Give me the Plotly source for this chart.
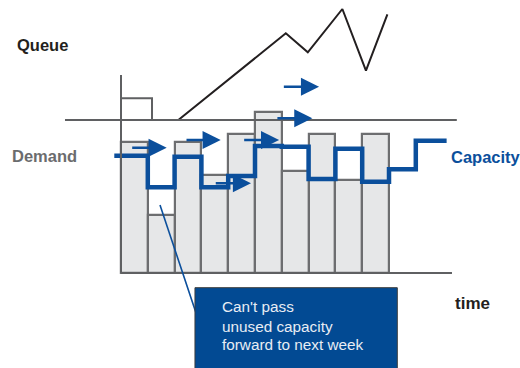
import plotly.graph_objects as go

# ---- data (y in arbitrary units, x in weeks) ----
weeks = list(range(1, 11))
demand = [13.07, 5.77, 13.13, 9.77, 13.87, 16.13, 10.23, 13.93, 9.3, 13.93]

cap_weeks = list(range(1, 13))
capacity = [11.73, 8.57, 11.63, 8.57, 9.7, 12.7, 12.63, 9.4, 12.43, 9.13, 10.37, 13.23]

queue_x = [2.64, 6.65, 7.47, 8.76, 9.64, 10.44]
queue_y = [0, 8.67, 6.77, 11.1, 4.93, 10.57]
queue_step_x = [0.5, 1.657]
queue_step_y = 2.17

arrow_from = [0.862, 2.888, 3.98, 5.04, 6.28, 6.52]
arrow_to = [2.205, 4.22, 5.35, 6.4, 7.64, 7.89]
arrow_level = [12.53, 13.3, 8.97, 13.3, 15.47, 18.63]

note_lines = ["Can't pass", "unused capacity", "forward to next week"]

# ---- styling / layout ----
BLUE = "#0b4f9c"
BOX = "#024a93"
GRAY_LINE = "#5f6062"
BAR_FILL = "#e6e7e8"
BAR_LINE = "#6d6e70"
QUEUE_BASE = 15.3
FONT = "Liberation Sans, Arial, sans-serif"

fig = go.Figure()

fig.add_trace(go.Bar(
    x=weeks, y=demand, width=1,
    marker=dict(color=BAR_FILL, line=dict(color=BAR_LINE, width=2.2)),
    hoverinfo="skip", showlegend=False,
))

cap_x = [0.25] + [w + 0.5 for w in cap_weeks[:-1]] + [12.65]
cap_y = capacity + [capacity[-1]]
fig.add_trace(go.Scatter(
    x=cap_x, y=cap_y, mode="lines", line=dict(color=BLUE, width=4.5, shape="hv"),
    hoverinfo="skip", showlegend=False,
))

# queue step and zig-zag
fig.add_trace(go.Scatter(
    x=[queue_step_x[0], queue_step_x[0], queue_step_x[1], queue_step_x[1]],
    y=[QUEUE_BASE, QUEUE_BASE + queue_step_y, QUEUE_BASE + queue_step_y, QUEUE_BASE],
    mode="lines", line=dict(color=GRAY_LINE, width=2),
    hoverinfo="skip", showlegend=False,
))
fig.add_trace(go.Scatter(
    x=queue_x, y=[QUEUE_BASE + q for q in queue_y], mode="lines",
    line=dict(color="#231f20", width=2),
    hoverinfo="skip", showlegend=False,
))

shapes = [
    dict(type="line", x0=-1.59, x1=13.03, y0=QUEUE_BASE, y1=QUEUE_BASE,
         line=dict(color=GRAY_LINE, width=2), layer="above"),
    dict(type="line", x0=0.5, x1=12.85, y0=0, y1=0,
         line=dict(color=GRAY_LINE, width=2), layer="above"),
    dict(type="line", x0=0.5, x1=0.5, y0=0, y1=QUEUE_BASE + 4.5,
         line=dict(color=GRAY_LINE, width=2), layer="above"),
    dict(type="line", x0=1.955, x1=3.45, y0=6.8, y1=-5.2,
         line=dict(color=BLUE, width=1.6), layer="above"),
    dict(type="rect", x0=3.26, x1=10.81, y0=-10.5, y1=-1.47,
         fillcolor=BOX, line=dict(color="#3c3c3c", width=1), layer="above"),
]

annotations = []
for a, b, lv in zip(arrow_from, arrow_to, arrow_level):
    annotations.append(dict(
        x=b, y=lv, ax=a, ay=lv, xref="x", yref="y", axref="x", ayref="y",
        text="", showarrow=True, arrowhead=2, arrowsize=1.45, arrowwidth=2.5,
        arrowcolor=BLUE, standoff=0, startstandoff=0,
    ))

def label(text, x, y, color, size=16.5, weight="bold", xanchor="left"):
    annotations.append(dict(
        x=x, y=y, xref="x", yref="y", text=text, showarrow=False,
        xanchor=xanchor, yanchor="middle",
        font=dict(family=FONT, size=size, color=color, weight=weight),
    ))

label("Queue", -3.45, 22.8, "#231f20")
label("Demand", -3.66, 11.73, "#6b6c6e")
label("Capacity", 12.72, 11.63, BLUE)
label("time", 12.9, -3.03, "#231f20", size=17)
for txt, yy in zip(note_lines, [-3.37, -5.3, -7.13]):
    label(txt, 4.18, yy, "#e8edf4", size=15.3, weight="normal")

fig.update_layout(
    width=520, height=368, margin=dict(l=0, r=0, t=0, b=0),
    paper_bgcolor="white", plot_bgcolor="white",
    xaxis=dict(range=[-4.0149, 15.388], visible=False, fixedrange=True),
    yaxis=dict(range=[-9.5, 27.3], visible=False, fixedrange=True),
    shapes=shapes, annotations=annotations, bargap=0, showlegend=False,
)

fig.write_html("out.html")
